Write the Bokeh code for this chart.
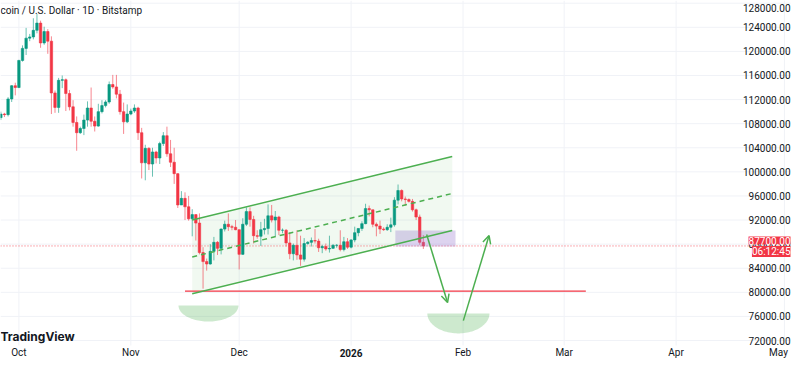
import numpy as np
import pandas as pd
from bokeh.plotting import figure
from bokeh.models import ColumnDataSource, Range1d, Label, Arrow, OpenHead
from bokeh.embed import file_html
from bokeh.resources import INLINE
from bokeh.core.properties import value

# ---------------- data (BTC/USD daily, Bitstamp) ----------------
start_day = "2025-09-26"
end_day = "2026-01-21"

open_k = [109.0, 109.6, 109.5, 112.1, 114.3,
          114.0, 118.5, 120.5, 122.2, 122.4, 123.5, 124.7, 121.4, 123.3, 121.7,
          113.1, 110.7, 115.2, 115.3, 113.0, 110.8, 108.2, 106.5, 107.2, 108.6,
          110.6, 108.4, 107.6, 110.0, 111.0, 111.6, 114.5, 114.1, 112.9, 110.0, 108.3,
          109.6, 110.1, 110.6, 106.5, 101.5, 103.9, 101.3, 103.3, 102.3, 104.7,
          106.0, 103.0, 101.6, 99.7, 94.5, 95.6, 94.2, 92.2, 92.9, 91.5,
          86.6, 85.1, 84.7, 86.8, 88.3, 87.3, 90.5, 91.3, 90.9, 90.8,
          90.4, 86.3, 91.3, 93.4, 92.1, 89.4, 89.3, 90.4, 90.6, 92.7,
          92.0, 92.5, 90.3, 90.3, 88.2, 86.4, 87.8, 86.2, 85.5, 88.1,
          88.3, 88.6, 88.5, 87.4, 87.6, 87.2, 87.3, 87.8, 87.8, 87.1, 88.4,
          87.5, 88.7, 89.9, 90.6, 91.4, 93.9, 93.7, 91.3, 91.0, 90.5,
          90.4, 90.8, 91.2, 95.3, 96.9, 95.5, 95.4, 95.1, 93.7, 92.5, 88.3]
high_k = [110.0, 109.8, 112.4, 114.4, 114.8,
          118.6, 121.0, 123.9, 122.9, 125.5, 126.2, 125.1, 124.1, 123.7, 122.5,
          113.5, 115.6, 116.0, 115.5, 113.6, 111.9, 109.2, 107.5, 109.5, 111.7,
          114.0, 109.2, 111.3, 111.9, 111.9, 115.0, 116.1, 116.1, 113.6, 111.5, 111.2,
          110.5, 111.2, 110.8, 107.3, 104.5, 104.1, 104.0, 103.5, 105.0, 106.6,
          107.5, 105.3, 104.0, 99.8, 96.8, 96.6, 96.0, 93.8, 92.9, 93.1,
          87.5, 85.6, 88.0, 89.2, 88.5, 90.6, 91.9, 93.1, 91.2, 92.0,
          90.4, 92.3, 94.1, 94.1, 92.7, 90.3, 91.7, 92.2, 94.6, 94.5,
          93.5, 92.7, 90.6, 90.5, 90.0, 88.1, 90.3, 89.4, 89.0, 88.5,
          89.1, 90.5, 88.9, 87.9, 88.1, 89.4, 88.0, 88.0, 90.3, 89.2, 89.0,
          88.8, 90.9, 90.6, 91.8, 94.7, 94.4, 93.7, 91.6, 91.9, 90.8,
          91.3, 92.4, 95.8, 97.9, 97.1, 95.9, 95.6, 95.5, 93.9, 92.9, 89.5]
low_k = [108.6, 109.1, 109.2, 111.6, 112.7,
         113.9, 118.3, 119.4, 121.7, 122.0, 123.0, 120.6, 121.1, 119.6, 109.6,
         109.8, 109.8, 113.9, 110.1, 110.2, 107.5, 103.5, 106.3, 106.1, 107.5,
         107.5, 106.7, 107.5, 109.7, 110.7, 111.3, 113.8, 112.2, 109.5, 106.3, 108.1,
         109.4, 109.8, 105.3, 98.9, 98.6, 100.3, 99.2, 101.4, 101.3, 104.3,
         102.5, 100.8, 98.0, 94.0, 94.5, 92.0, 91.9, 89.3, 88.6, 86.3,
         80.6, 83.6, 84.6, 85.3, 86.2, 86.3, 90.1, 90.2, 90.3, 90.3,
         83.8, 86.2, 91.0, 90.9, 88.1, 88.9, 87.7, 89.6, 89.6, 91.6,
         89.3, 89.5, 89.8, 87.6, 85.5, 85.3, 85.4, 84.4, 85.1, 87.9,
         87.6, 88.1, 86.7, 86.5, 86.9, 86.6, 87.2, 87.4, 86.8, 86.8, 87.2,
         87.3, 88.3, 89.3, 90.2, 91.3, 92.6, 90.8, 89.3, 89.7, 90.2,
         90.2, 90.0, 90.9, 94.6, 95.1, 94.4, 94.9, 93.4, 92.0, 87.9, 87.2]
close_k = [109.6, 109.5, 112.1, 114.3, 114.0,
           118.5, 120.5, 122.2, 122.4, 123.5, 124.7, 121.4, 123.3, 121.7, 113.1,
           110.7, 115.2, 115.3, 113.0, 110.8, 108.2, 106.5, 107.2, 108.6, 110.6,
           108.4, 107.6, 110.0, 111.0, 111.6, 114.5, 114.1, 112.9, 110.0, 108.3, 109.6,
           110.1, 110.6, 106.5, 101.5, 103.9, 101.3, 103.3, 102.3, 104.7, 106.0,
           103.0, 101.6, 99.7, 94.5, 95.6, 94.2, 92.2, 92.9, 91.5, 86.6,
           85.1, 84.7, 86.8, 88.3, 87.3, 90.5, 91.3, 90.9, 90.8, 90.4,
           86.3, 91.3, 93.4, 92.1, 89.4, 89.3, 90.4, 90.6, 92.7, 92.0,
           92.5, 90.3, 90.3, 88.2, 86.4, 87.8, 86.2, 85.5, 88.1, 88.3,
           88.6, 88.5, 87.4, 87.6, 87.2, 87.3, 87.8, 87.8, 87.1, 88.4, 87.5,
           88.7, 89.9, 90.6, 91.4, 93.9, 93.7, 91.3, 91.0, 90.5, 90.4,
           90.8, 91.2, 95.3, 96.9, 95.5, 95.4, 95.1, 93.7, 92.5, 88.3, 87.7]

last_price = 87700.0
countdown = "06:12:45"
price_ticks = [72000, 76000, 80000, 84000, 88000, 92000, 96000, 100000,
               104000, 108000, 112000, 116000, 120000, 124000, 128000]
month_days = ["2025-10-01", "2025-11-01", "2025-12-01", "2026-01-01",
              "2026-02-01", "2026-03-01", "2026-04-01", "2026-05-01"]
month_labels = ["Oct", "Nov", "Dec", "2026", "Feb", "Mar", "Apr", "May"]

# drawings (chart annotations)
channel_days = ["2025-11-18", "2026-01-29"]
channel_upper = [92000, 102550]
channel_lower = [79750, 90260]
support_days = ["2025-11-16", "2026-03-07"]
support_price = 80200
box_days = ["2026-01-13 06:00", "2026-01-29 22:00"]
box_prices = [87600, 90260]
arrow_down = (["2026-01-21 22:00", "2026-01-27 17:00"], [89600, 78300])
arrow_up = (["2026-02-01 02:00", "2026-02-08 05:00"], [75300, 89430])
bowl_left = ("2025-11-22 12:00", 8.3, 77800, 2650)   # centre, half-width (days), top, depth
bowl_right = ("2026-01-30 17:00", 8.6, 76480, 3300)

# ---------------- layout helpers (pixel -> data) ----------------
DAY = 86400000.0
W, H = 792, 359
PX_PER_DAY = 3.611
OCT1_PX = 18.4
PRICE_PER_PX = 166.03
Y72K_PX = 340.0


def ms(s):
    return pd.Timestamp(s).value / 1e6


OCT1 = ms("2025-10-01")


def px_to_t(px):
    return OCT1 + (px - OCT1_PX) / PX_PER_DAY * DAY


def py_to_p(py):
    return 72000 + (Y72K_PX - py) * PRICE_PER_PX


UP = "#089981"
DOWN = "#f23645"
GREEN = "#4caf50"
TXT = "#131722"
GRID = "#f0f2f7"

dates = pd.date_range(start_day, end_day, freq="D")
o = np.array(open_k) * 1000
h = np.array(high_k) * 1000
l = np.array(low_k) * 1000
c = np.array(close_k) * 1000
colors = [UP if cc >= oo else DOWN for oo, cc in zip(o, c)]
src = ColumnDataSource(dict(x=dates, o=o, h=h, l=l, c=c,
                            top=np.maximum(o, c), bot=np.minimum(o, c),
                            color=colors))

x0, x1 = px_to_t(0), px_to_t(W)
y_top, y_bot = py_to_p(0), py_to_p(H)

p = figure(width=W, height=H, x_axis_type="datetime",
           x_axis_location=None, y_axis_location=None,
           x_range=Range1d(x0, x1), y_range=Range1d(y_bot, y_top),
           output_backend="svg", toolbar_location=None, title=None,
           min_border=0)
p.outline_line_color = None
p.background_fill_color = "white"
p.border_fill_color = "white"
p.grid.visible = False

pane_right = px_to_t(790)
pane_bottom = py_to_p(345)
month_ms = [ms(d) for d in month_days]

# grid lines
p.segment(x0=[x0] * len(price_ticks), x1=[pane_right] * len(price_ticks),
          y0=price_ticks, y1=price_ticks, line_color=GRID, line_width=1)
p.segment(x0=month_ms, x1=month_ms, y0=[pane_bottom] * len(month_ms),
          y1=[y_top] * len(month_ms), line_color=GRID, line_width=1)

# channel fill
cx = [ms(d) for d in channel_days]
p.patch([cx[0], cx[1], cx[1], cx[0]],
        [channel_upper[0], channel_upper[1], channel_lower[1], channel_lower[0]],
        fill_color=GREEN, fill_alpha=0.08, line_color=None)

# current price dotted line
p.segment(x0=[x0], x1=[pane_right], y0=[last_price], y1=[last_price],
          line_color=DOWN, line_width=1, line_dash="1 2", line_alpha=0.8)

# bowls
for cen, hw, top, depth in (bowl_left, bowl_right):
    t = np.linspace(0, np.pi, 60)
    bx = ms(cen) + hw * DAY * np.cos(t)
    by = top - depth * np.sin(t)
    p.patch(bx, by, fill_color=GREEN, fill_alpha=0.28, line_color=None)

# candles
p.segment(x0="x", x1="x", y0="h", y1="l", color="color", line_width=1,
          line_alpha=0.6, source=src)
p.vbar(x="x", width=0.68 * DAY, top="top", bottom="bot", fill_color="color",
       line_color="color", line_width=0.6, source=src)

# support line
p.segment(x0=[ms(support_days[0])], x1=[ms(support_days[1])],
          y0=[support_price], y1=[support_price], line_color=DOWN, line_width=1.4)

# purple box
p.quad(left=[ms(box_days[0])], right=[ms(box_days[1])],
       bottom=[box_prices[0]], top=[box_prices[1]],
       fill_color="#9575cd", fill_alpha=0.32, line_color=None)

# channel lines
p.line(cx, channel_upper, line_color=GREEN, line_width=1.5)
p.line(cx, channel_lower, line_color=GREEN, line_width=1.5)
mid = [(a + b) / 2 for a, b in zip(channel_upper, channel_lower)]
p.line(cx, mid, line_color=GREEN, line_width=1.5, line_dash="5 4")

# arrows
for (ad, ap) in (arrow_down, arrow_up):
    p.add_layout(Arrow(end=OpenHead(size=8, line_color=GREEN, line_width=1.5),
                       x_start=ms(ad[0]), y_start=ap[0],
                       x_end=ms(ad[1]), y_end=ap[1],
                       line_color=GREEN, line_width=1.5))

# time-scale labels (kept inside the picture)
label_y = py_to_p(352)
label_x = [min(m, px_to_t(778)) for m in month_ms]
reg = [(x, lab) for x, lab in zip(label_x, month_labels) if lab != "2026"]
bold = [(x, lab) for x, lab in zip(label_x, month_labels) if lab == "2026"]
p.text(x=[m for m, _ in reg], y=[label_y] * len(reg), text=[lab for _, lab in reg],
       text_font=value("Roboto"), text_font_size="10px", text_color=TXT,
       text_align="center", text_baseline="middle")
p.text(x=[m for m, _ in bold], y=[label_y] * len(bold), text=[lab for _, lab in bold],
       text_font=value("Roboto"), text_font_style="bold", text_font_size="10px",
       text_color=TXT, text_align="center", text_baseline="middle")

# price-scale labels (right edge, kept inside the picture)
tick_label_y = [min(v, py_to_p(7)) for v in price_ticks]
p.text(x=[px_to_t(790)] * len(price_ticks), y=tick_label_y,
       text=[f"{v:.2f}" for v in price_ticks],
       text_font=value("Roboto"), text_font_size="10px", text_color=TXT,
       text_align="right", text_baseline="middle")

# legend / watermark texts
p.add_layout(Label(x=0, y=py_to_p(10), x_units="screen", y_units="data",
                   text="coin / U.S. Dollar · 1D · Bitstamp",
                   text_font="Roboto", text_font_size="10px", text_color=TXT,
                   text_baseline="middle", text_align="left"))
p.add_layout(Label(x=0, y=py_to_p(336), x_units="screen", y_units="data",
                   text="TradingView", text_font="Inter", text_font_style="bold",
                   text_font_size="12px", text_color=TXT,
                   text_baseline="middle", text_align="left"))

# last-price tag
p.add_layout(Label(x=790, y=py_to_p(240), x_units="screen", y_units="data",
                   text=f"{last_price:.2f}", text_font="Roboto", text_font_size="10px",
                   text_color="white", background_fill_color=DOWN,
                   text_baseline="middle", text_align="right"))
p.add_layout(Label(x=790, y=py_to_p(251), x_units="screen", y_units="data",
                   text=countdown, text_font="Roboto", text_font_size="10px",
                   text_color="white", background_fill_color=DOWN,
                   text_baseline="middle", text_align="right"))

with open("out.html", "w") as f:
    f.write(file_html(p, INLINE))
